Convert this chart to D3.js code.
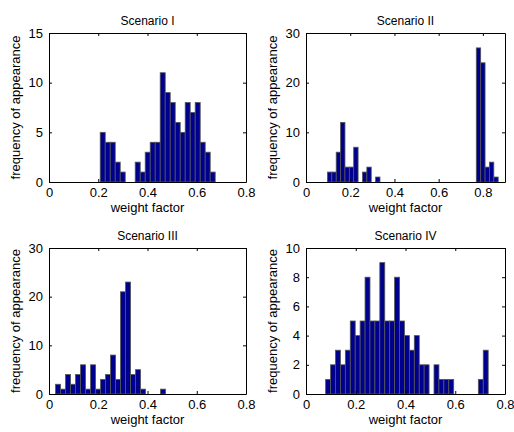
<!DOCTYPE html>
<html>
<head>
<meta charset="utf-8">
<script src="https://cdn.jsdelivr.net/npm/d3@7"></script>
<style>
    body { margin: 0; background: #fff; }
    text { font-family: "Liberation Sans", Arial, sans-serif; fill: #000; }
</style>
</head>
<body>
<div id="chart"></div>
<script>
// Histogram counts, bins of ~0.02
const countsI = [5, 4, 4, 2, 1, 0, 0, 2, 1, 3, 4, 4, 11, 9, 8, 6, 5, 8, 7, 8, 4, 3, 1];
const countsII = [2, 2, 6, 12, 3, 3, 7, 0, 2, 3, 0, 1,
    0, 0, 0, 0, 0, 0, 0, 0, 0, 0, 0, 0, 0, 0, 0, 0, 0, 0, 0, 0, 0, 0,
    27, 24, 3, 4, 1];
const countsIII = [2, 1, 4, 2, 4, 6, 1, 6, 1, 3, 4, 8, 3, 21, 23, 4, 5, 1, 0, 0, 0, 1];
const countsIV = [1, 2, 3, 2, 3, 5, 4, 5, 8, 5, 5, 9, 5, 5, 8, 5, 4, 3, 4, 2, 2, 0, 2, 1, 1, 1, 0, 0, 0, 0, 0, 1, 3];

// first bin edge and bin width for each scenario
const binStart = [0.208, 0.097, 0.0268, 0.079];
const binWidth = [0.0203, 0.0198, 0.0203, 0.0198];

const titles = ["Scenario I", "Scenario II", "Scenario III", "Scenario IV"];
const xMax = [0.8, 0.9, 0.8, 0.8];
const yMax = [15, 30, 30, 10];
const xTicks = [0, 0.2, 0.4, 0.6, 0.8];
const yTicks = [[0, 5, 10, 15], [0, 10, 20, 30], [0, 10, 20, 30], [0, 2, 4, 6, 8, 10]];
const allCounts = [countsI, countsII, countsIII, countsIV];

// axes boxes in pixels
const boxes = [
    { left: 49, right: 246, top: 33, bottom: 182 },
    { left: 306, right: 505, top: 33, bottom: 182 },
    { left: 49, right: 246, top: 248, bottom: 394 },
    { left: 306, right: 505, top: 248, bottom: 394 }
];

var svg = d3.select("#chart")
    .append("svg")
    .attr("width", 514)
    .attr("height", 432);

svg.append("rect").attr("width", 514).attr("height", 432).attr("fill", "#fff");

function drawPanel(i) {
    var b = boxes[i];
    var x = d3.scaleLinear().domain([0, xMax[i]]).range([b.left, b.right]);
    var y = d3.scaleLinear().domain([0, yMax[i]]).range([b.bottom, b.top]);
    var g = svg.append("g");

    // bars
    var bins = allCounts[i].map((c, k) => ({
        x0: binStart[i] + k * binWidth[i],
        x1: binStart[i] + (k + 1) * binWidth[i],
        count: c
    })).filter(d => d.count > 0);

    g.selectAll("rect.bar")
        .data(bins)
        .enter()
        .append("rect")
        .attr("class", "bar")
        .attr("x", d => x(d.x0))
        .attr("y", d => y(d.count))
        .attr("width", d => x(d.x1) - x(d.x0))
        .attr("height", d => y(0) - y(d.count))
        .attr("fill", "#00008f")
        .attr("stroke", "#555")
        .attr("stroke-width", 0.8);

    // axes box, ticks pointing inward on all four sides
    g.append("g")
        .attr("transform", "translate(0," + b.bottom + ")")
        .call(d3.axisBottom(x).tickValues(xTicks).tickSizeInner(-3).tickSizeOuter(0).tickPadding(6).tickFormat(d3.format("~g")));
    g.append("g")
        .attr("transform", "translate(0," + b.top + ")")
        .call(d3.axisTop(x).tickValues(xTicks).tickSizeInner(-3).tickSizeOuter(0).tickFormat(""));
    g.append("g")
        .attr("transform", "translate(" + b.left + ",0)")
        .call(d3.axisLeft(y).tickValues(yTicks[i]).tickSizeInner(-3).tickSizeOuter(0).tickPadding(6));
    g.append("g")
        .attr("transform", "translate(" + b.right + ",0)")
        .call(d3.axisRight(y).tickValues(yTicks[i]).tickSizeInner(-3).tickSizeOuter(0).tickFormat(""));

    g.selectAll(".domain").attr("stroke", "#000").attr("stroke-width", 1);
    g.selectAll(".tick line").attr("stroke", "#000");
    g.selectAll(".tick text").attr("font-size", 13).attr("font-family", '"Liberation Sans", Arial, sans-serif');

    // title
    g.append("text")
        .attr("x", (b.left + b.right) / 2)
        .attr("y", b.top - 8)
        .attr("text-anchor", "middle")
        .attr("font-size", 12)
        .text(titles[i]);

    // x label
    g.append("text")
        .attr("x", (b.left + b.right) / 2)
        .attr("y", b.bottom + 30)
        .attr("text-anchor", "middle")
        .attr("font-size", 13)
        .text("weight factor");

    // y label
    g.append("text")
        .attr("transform", "translate(" + (b.left - 29) + "," + ((b.top + b.bottom) / 2) + ") rotate(-90)")
        .attr("text-anchor", "middle")
        .attr("font-size", 13)
        .text("frequency of appearance");
}

titles.forEach((t, i) => drawPanel(i));
</script>
</body>
</html>
